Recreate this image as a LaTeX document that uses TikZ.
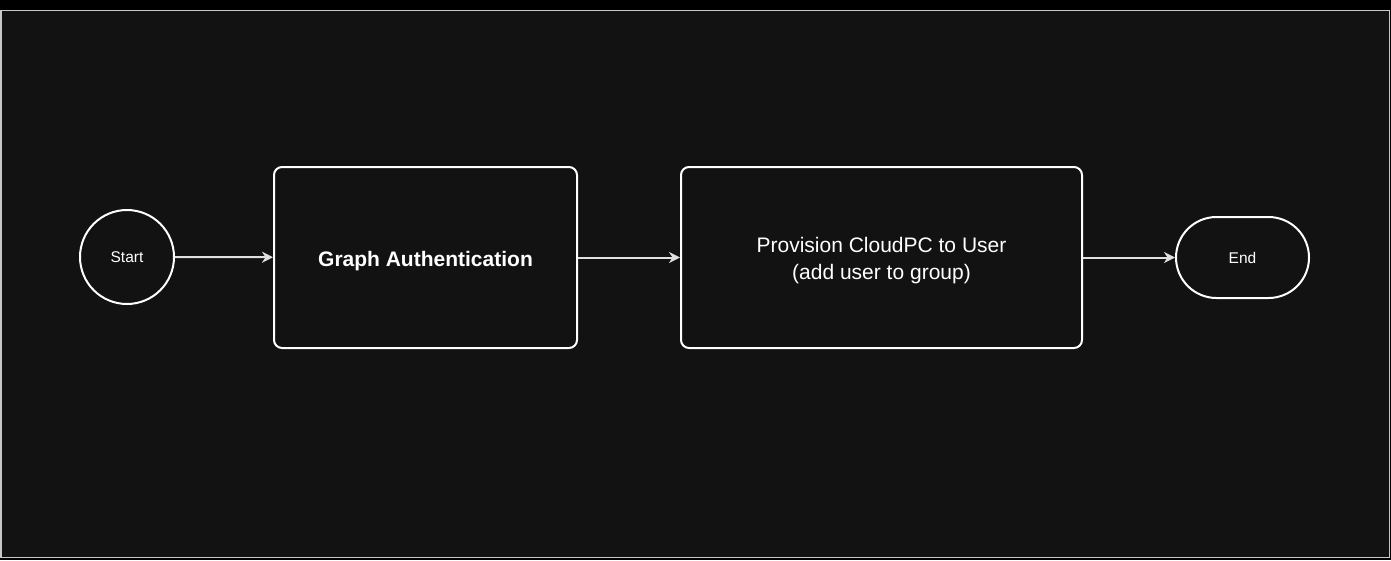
\documentclass[tikz,border=0pt]{standalone}
\usepackage{fontspec}
\setmainfont{Liberation Sans}
\usetikzlibrary{arrows.meta,shapes.misc}
\definecolor{bgdark}{HTML}{121212}
\definecolor{framegrey}{HTML}{C8C8C8}
\definecolor{linegrey}{HTML}{E0E0E0}
\begin{document}
\begin{tikzpicture}[x=1pt,y=-1pt,
  shapeline/.style={draw=white, line width=2pt},
  procbox/.style={shapeline, rounded corners=8pt, minimum width=303pt, minimum height=181pt, align=center, text=white, inner sep=0pt},
  flowarrow/.style={draw=linegrey, line width=2pt, -{Stealth[length=11pt,width=11pt,inset=3.5pt]}},
  smalltext/.style={text=white, font=\fontsize{15.5}{18}\selectfont}
]
\useasboundingbox (0,0) rectangle (1391,560);
\fill[black] (0,0) rectangle (1391,560);
\draw[fill=bgdark, draw=framegrey, line width=1.2pt] (1,10.5) rectangle (1389.5,557.5);

\node[shapeline, circle, minimum size=94pt, inner sep=0pt, smalltext] (start) at (127,257) {Start};
\node[procbox, font=\bfseries\fontsize{21}{26}\selectfont] (auth) at (425.5,257.5) {\rule{0pt}{21.5pt}Graph Authentication};
\node[procbox, minimum width=401pt, font=\fontsize{21}{27}\selectfont] (prov) at (881.5,257.5) {\begin{tabular}{@{}c@{}}\rule{0pt}{24.9pt}Provision CloudPC to User\\(add user to group)\end{tabular}};
\node[shapeline, rounded rectangle, minimum width=133pt, minimum height=81pt, inner sep=0pt, smalltext] (end) at (1242.5,257.5) {End};

\draw[flowarrow] (start) -- (auth);
\draw[flowarrow] (auth) -- (prov);
\draw[flowarrow] (prov) -- (end);
\end{tikzpicture}
\end{document}
